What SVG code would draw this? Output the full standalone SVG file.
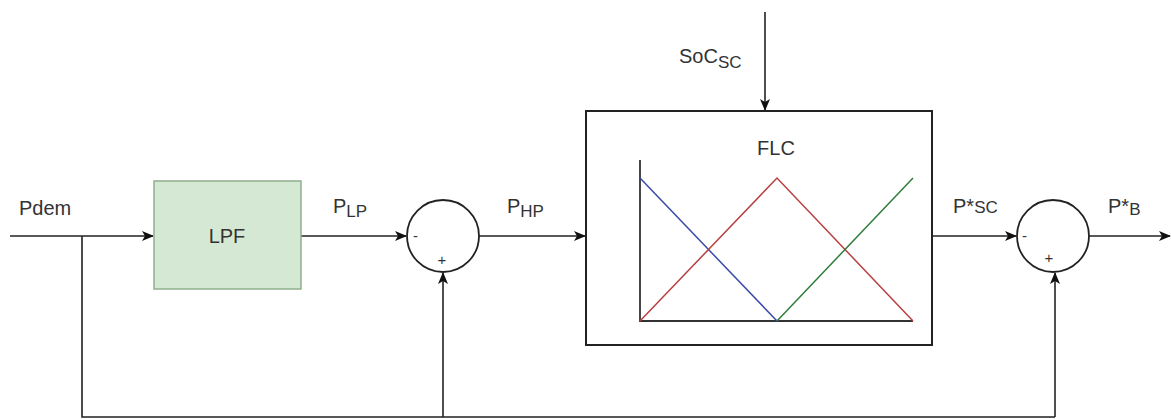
<svg xmlns="http://www.w3.org/2000/svg" width="1171" height="419" viewBox="0 0 1171 419">
<style>
  text { font-family: "Liberation Sans", Arial, sans-serif; fill: #333; }
  .lbl { font-size: 20px; }
  .sub { font-size: 17px; }
  .sgn { font-size: 15px; }
  .wire { fill: none; stroke: #222; stroke-width: 1.6; }
  .sum { fill: #fff; stroke: #222; stroke-width: 1.8; }
</style>
<defs>
  <marker id="arr" viewBox="0 0 12 10" refX="11" refY="5" markerWidth="12" markerHeight="10" markerUnits="userSpaceOnUse" orient="auto">
    <path d="M0,0 L12,5 L0,10 L3,5 z" fill="#111"/>
  </marker>
</defs>

<g id="connectors">
  <line class="wire" x1="10" y1="236" x2="153" y2="236" marker-end="url(#arr)"/>
  <polyline class="wire" points="82,236 82,417 1055,417"/>
  <line class="wire" x1="301" y1="236" x2="406" y2="236" marker-end="url(#arr)"/>
  <line class="wire" x1="443" y1="417" x2="443" y2="273" marker-end="url(#arr)"/>
  <line class="wire" x1="479" y1="236" x2="585" y2="236" marker-end="url(#arr)"/>
  <line class="wire" x1="765" y1="12" x2="765" y2="110" marker-end="url(#arr)"/>
  <line class="wire" x1="932" y1="236" x2="1016" y2="236" marker-end="url(#arr)"/>
  <line class="wire" x1="1055" y1="417" x2="1055" y2="273" marker-end="url(#arr)"/>
  <line class="wire" x1="1089" y1="236" x2="1170" y2="236" marker-end="url(#arr)"/>
</g>

<g id="pdem-label">
  <text class="lbl" x="19" y="215">Pdem</text>
</g>

<g id="lpf">
  <rect x="154" y="181" width="147" height="108" fill="#d5e8d4" stroke="#8fb08c" stroke-width="1.5"/>
  <text class="lbl" x="227" y="243" text-anchor="middle">LPF</text>
</g>

<g id="plp-label">
  <text class="lbl" x="333" y="213">P<tspan class="sub" dy="4">LP</tspan></text>
</g>

<g id="sum1">
  <circle class="sum" cx="443" cy="236" r="36"/>
  <text class="sgn" x="413" y="241">-</text>
  <text class="sgn" x="442" y="265" text-anchor="middle">+</text>
</g>

<g id="php-label">
  <text class="lbl" x="507" y="213">P<tspan class="sub" dy="4">HP</tspan></text>
</g>

<g id="soc-label">
  <text class="lbl" x="679" y="63">SoC<tspan class="sub" dy="5">SC</tspan></text>
</g>

<g id="flc">
  <rect x="586" y="111" width="346" height="234" fill="#fff" stroke="#222" stroke-width="2"/>
  <text class="lbl" x="776" y="155" text-anchor="middle">FLC</text>
  <polyline points="640,160 640,321 913,321" fill="none" stroke="#333" stroke-width="1.8"/>
  <line x1="640" y1="178" x2="777" y2="321" stroke="#3a4aa8" stroke-width="1.5"/>
  <polyline points="640,321 777,178 913,321" fill="none" stroke="#b84040" stroke-width="1.5"/>
  <line x1="777" y1="321" x2="913" y2="178" stroke="#2e7d3a" stroke-width="1.5"/>
</g>

<g id="psc-label">
  <text class="lbl" x="953" y="213">P*<tspan class="sub">SC</tspan></text>
</g>

<g id="sum2">
  <circle class="sum" cx="1053" cy="236" r="36"/>
  <text class="sgn" x="1022" y="241">-</text>
  <text class="sgn" x="1049" y="263" text-anchor="middle">+</text>
</g>

<g id="pb-label">
  <text class="lbl" x="1108" y="213">P*<tspan class="sub" dy="2">B</tspan></text>
</g>
</svg>
